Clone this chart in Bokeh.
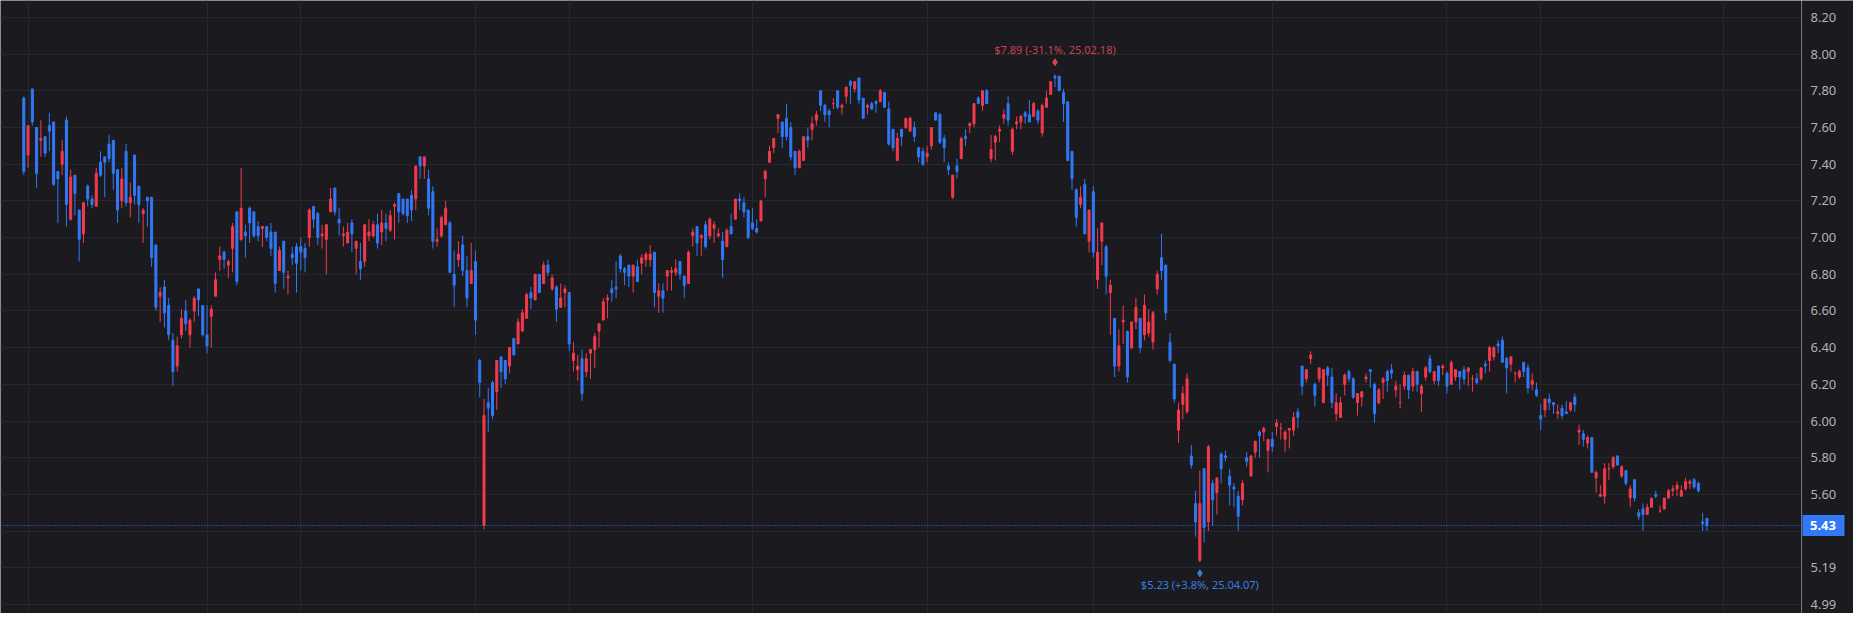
import numpy as np
from bokeh.plotting import figure
from bokeh.layouts import row
from bokeh.models import Range1d, FixedTicker, Span
from bokeh.models import ColumnDataSource
from bokeh.core.properties import value
from bokeh.embed import file_html
from bokeh.resources import INLINE

# daily candles (oldest first)
opens = [
    7.76, 7.45, 7.81, 7.60, 7.53, 7.55, 7.61, 7.63, 7.36, 7.40,
    7.64, 7.10, 7.34, 7.15, 7.02, 7.28, 7.21, 7.17, 7.41, 7.44,
    7.51, 7.53, 7.37, 7.20, 7.47, 7.19, 7.45, 7.28, 7.13, 7.22,
    7.22, 6.96, 6.68, 6.73, 6.63, 6.44, 6.30, 6.47, 6.60, 6.47,
    6.60, 6.72, 6.63, 6.47, 6.57, 6.68, 6.88, 6.92, 6.85, 6.94,
    7.14, 6.99, 7.03, 7.16, 7.14, 7.06, 7.05, 7.06, 7.03, 7.03,
    6.82, 6.98, 6.78, 6.91, 6.95, 6.95, 6.94, 7.00, 7.17, 7.13,
    7.01, 6.99, 7.14, 7.27, 7.10, 7.01, 6.97, 7.08, 6.94, 6.87,
    6.87, 7.01, 7.01, 7.07, 7.03, 7.08, 7.04, 7.17, 7.24, 7.21,
    7.21, 7.23, 7.21, 7.44, 7.39, 7.32, 7.25, 6.98, 7.01, 7.07,
    7.08, 6.80, 6.88, 6.96, 6.82, 6.75, 6.87, 6.33, 5.43, 6.10,
    6.21, 6.16, 6.35, 6.33, 6.30, 6.45, 6.42, 6.49, 6.56, 6.70,
    6.66, 6.80, 6.75, 6.85, 6.72, 6.73, 6.62, 6.70, 6.70, 6.33,
    6.28, 6.34, 6.27, 6.37, 6.39, 6.49, 6.55, 6.66, 6.72, 6.73,
    6.90, 6.83, 6.85, 6.79, 6.84, 6.86, 6.88, 6.88, 6.92, 6.68,
    6.71, 6.79, 6.81, 6.81, 6.87, 6.79, 6.75, 7.01, 7.06, 7.00,
    7.07, 7.01, 7.05, 7.01, 6.98, 6.95, 7.06, 7.10, 7.21, 7.19,
    7.15, 7.08, 7.05, 7.09, 7.32, 7.41, 7.49, 7.65, 7.63, 7.65,
    7.60, 7.47, 7.38, 7.42, 7.55, 7.59, 7.64, 7.80, 7.72, 7.69,
    7.73, 7.80, 7.71, 7.77, 7.85, 7.81, 7.87, 7.76, 7.71, 7.73,
    7.74, 7.74, 7.79, 7.70, 7.59, 7.42, 7.59, 7.60, 7.58, 7.60,
    7.49, 7.47, 7.44, 7.50, 7.68, 7.67, 7.54, 7.39, 7.22, 7.39,
    7.43, 7.55, 7.61, 7.62, 7.76, 7.72, 7.80, 7.43, 7.52, 7.58,
    7.65, 7.73, 7.47, 7.62, 7.63, 7.68, 7.67, 7.66, 7.69, 7.57,
    7.71, 7.78, 7.88, 7.88, 7.79, 7.74, 7.47, 7.26, 7.18, 7.29,
    6.98, 7.25, 6.77, 6.98, 6.95, 6.70, 6.56, 6.30, 6.54, 6.49,
    6.40, 6.54, 6.56, 6.47, 6.48, 6.43, 6.72, 6.89, 6.85, 6.43,
    6.31, 5.95, 6.09, 6.05, 5.81, 5.55, 5.24, 5.74, 5.45, 5.66,
    5.61, 5.82, 5.81, 5.70, 5.64, 5.59, 5.57, 5.80, 5.70, 5.83,
    5.94, 5.94, 5.84, 5.90, 5.97, 5.96, 5.90, 5.95, 5.95, 6.05,
    6.30, 6.23, 6.34, 6.20, 6.23, 6.10, 6.29, 6.24, 6.04, 6.02,
    6.20, 6.27, 6.23, 6.10, 6.13, 6.23, 6.28, 6.20, 6.10, 6.21,
    6.27, 6.28, 6.17, 6.10, 6.19, 6.25, 6.19, 6.27, 6.15, 6.24,
    6.34, 6.22, 6.30, 6.29, 6.26, 6.20, 6.24, 6.27, 6.28, 6.27,
    6.23, 6.23, 6.23, 6.31, 6.33, 6.35, 6.42, 6.44, 6.34, 6.31,
    6.26, 6.24, 6.32, 6.29, 6.20, 6.17, 6.03, 6.06, 6.12, 6.10,
    6.04, 6.07, 6.05, 6.06, 6.13, 5.94, 5.93, 5.88, 5.91, 5.69,
    5.59, 5.59, 5.74, 5.75, 5.81, 5.70, 5.73, 5.58, 5.68, 5.50,
    5.52, 5.49, 5.53, 5.60, 5.51, 5.52, 5.58, 5.62, 5.63, 5.59,
    5.63, 5.66, 5.68, 5.66, 5.45, 5.47,
]
highs = [
    7.77, 7.61, 7.81, 7.60, 7.64, 7.55, 7.68, 7.63, 7.36, 7.53,
    7.66, 7.37, 7.34, 7.15, 7.19, 7.29, 7.23, 7.38, 7.47, 7.44,
    7.56, 7.53, 7.37, 7.38, 7.51, 7.30, 7.45, 7.28, 7.16, 7.22,
    7.22, 6.96, 6.73, 6.77, 6.67, 6.48, 6.46, 6.61, 6.66, 6.56,
    6.68, 6.72, 6.63, 6.63, 6.63, 6.81, 6.95, 6.93, 6.88, 7.08,
    7.14, 7.38, 7.07, 7.17, 7.14, 7.09, 7.06, 7.06, 7.08, 7.03,
    6.95, 6.98, 6.82, 6.95, 6.97, 7.00, 6.97, 7.16, 7.17, 7.14,
    7.07, 7.07, 7.27, 7.27, 7.16, 7.06, 7.08, 7.10, 6.98, 6.97,
    7.07, 7.10, 7.09, 7.13, 7.15, 7.13, 7.15, 7.19, 7.24, 7.21,
    7.21, 7.26, 7.39, 7.44, 7.44, 7.37, 7.28, 7.05, 7.12, 7.20,
    7.09, 6.93, 6.98, 7.01, 6.90, 6.97, 6.93, 6.34, 6.12, 6.18,
    6.22, 6.33, 6.35, 6.33, 6.40, 6.45, 6.56, 6.61, 6.70, 6.73,
    6.80, 6.80, 6.87, 6.88, 6.80, 6.74, 6.75, 6.74, 6.70, 6.43,
    6.36, 6.39, 6.37, 6.39, 6.48, 6.53, 6.67, 6.69, 6.77, 6.87,
    6.91, 6.84, 6.85, 6.85, 6.88, 6.91, 6.92, 6.96, 6.92, 6.75,
    6.75, 6.82, 6.84, 6.88, 6.87, 6.79, 6.93, 7.05, 7.06, 7.02,
    7.09, 7.11, 7.09, 7.05, 7.03, 7.05, 7.13, 7.21, 7.24, 7.22,
    7.15, 7.16, 7.10, 7.20, 7.37, 7.50, 7.54, 7.67, 7.63, 7.73,
    7.63, 7.47, 7.48, 7.55, 7.60, 7.66, 7.69, 7.80, 7.73, 7.70,
    7.76, 7.80, 7.73, 7.82, 7.86, 7.85, 7.87, 7.76, 7.73, 7.74,
    7.75, 7.81, 7.79, 7.74, 7.59, 7.57, 7.59, 7.65, 7.66, 7.63,
    7.49, 7.49, 7.50, 7.60, 7.68, 7.68, 7.56, 7.41, 7.34, 7.43,
    7.55, 7.59, 7.63, 7.73, 7.77, 7.80, 7.81, 7.56, 7.56, 7.61,
    7.70, 7.77, 7.60, 7.66, 7.67, 7.69, 7.75, 7.74, 7.70, 7.73,
    7.80, 7.85, 7.89, 7.88, 7.81, 7.74, 7.47, 7.27, 7.28, 7.32,
    7.15, 7.28, 7.05, 7.08, 6.96, 6.77, 6.56, 6.50, 6.63, 6.49,
    6.54, 6.67, 6.56, 6.69, 6.61, 6.60, 6.82, 7.02, 6.85, 6.48,
    6.31, 6.10, 6.19, 6.26, 5.87, 5.62, 5.73, 5.74, 5.87, 5.68,
    5.69, 5.83, 5.84, 5.74, 5.66, 5.62, 5.68, 5.83, 5.81, 5.89,
    5.95, 5.97, 5.90, 5.94, 6.01, 5.99, 5.95, 5.96, 6.05, 6.07,
    6.30, 6.28, 6.38, 6.21, 6.29, 6.28, 6.30, 6.29, 6.15, 6.13,
    6.26, 6.28, 6.24, 6.15, 6.16, 6.26, 6.28, 6.21, 6.18, 6.24,
    6.28, 6.31, 6.22, 6.20, 6.27, 6.25, 6.29, 6.27, 6.20, 6.30,
    6.36, 6.27, 6.30, 6.31, 6.27, 6.33, 6.28, 6.27, 6.30, 6.29,
    6.25, 6.26, 6.29, 6.33, 6.41, 6.41, 6.44, 6.46, 6.35, 6.35,
    6.27, 6.28, 6.32, 6.31, 6.26, 6.21, 6.09, 6.12, 6.15, 6.10,
    6.09, 6.09, 6.11, 6.10, 6.15, 5.98, 5.95, 5.92, 5.91, 5.73,
    5.65, 5.77, 5.77, 5.81, 5.81, 5.76, 5.73, 5.65, 5.68, 5.52,
    5.55, 5.55, 5.58, 5.62, 5.54, 5.58, 5.63, 5.65, 5.67, 5.65,
    5.69, 5.68, 5.69, 5.67, 5.50, 5.47,
]
lows = [
    7.34, 7.38, 7.61, 7.27, 7.44, 7.44, 7.47, 7.28, 7.08, 7.34,
    7.06, 7.09, 7.12, 6.87, 6.97, 7.17, 7.16, 7.17, 7.33, 7.22,
    7.41, 7.26, 7.08, 7.16, 7.17, 7.11, 7.18, 7.08, 6.97, 7.06,
    6.84, 6.60, 6.54, 6.51, 6.44, 6.19, 6.27, 6.45, 6.49, 6.40,
    6.54, 6.57, 6.46, 6.37, 6.40, 6.68, 6.82, 6.83, 6.78, 6.81,
    6.74, 6.98, 6.89, 6.97, 7.00, 6.98, 6.95, 6.98, 6.90, 6.70,
    6.82, 6.72, 6.69, 6.85, 6.70, 6.82, 6.81, 6.95, 7.05, 6.96,
    6.94, 6.80, 7.14, 7.12, 7.01, 6.95, 6.97, 6.92, 6.80, 6.77,
    6.84, 6.98, 7.00, 6.94, 6.96, 6.98, 7.03, 6.99, 7.08, 7.12,
    7.08, 7.09, 7.15, 7.32, 7.32, 7.12, 6.94, 6.95, 7.00, 7.07,
    6.81, 6.62, 6.84, 6.79, 6.62, 6.75, 6.47, 6.13, 5.41, 5.94,
    6.01, 6.06, 6.18, 6.20, 6.26, 6.36, 6.42, 6.49, 6.56, 6.61,
    6.66, 6.70, 6.75, 6.79, 6.71, 6.54, 6.62, 6.62, 6.38, 6.27,
    6.22, 6.11, 6.24, 6.23, 6.29, 6.40, 6.55, 6.56, 6.65, 6.67,
    6.81, 6.74, 6.73, 6.70, 6.76, 6.80, 6.84, 6.84, 6.62, 6.59,
    6.59, 6.71, 6.71, 6.79, 6.77, 6.67, 6.75, 6.95, 6.90, 6.90,
    6.94, 6.99, 6.97, 7.00, 6.78, 6.95, 7.02, 7.10, 7.15, 7.11,
    6.99, 7.04, 7.02, 7.09, 7.22, 7.41, 7.46, 7.57, 7.49, 7.53,
    7.42, 7.34, 7.38, 7.42, 7.49, 7.53, 7.61, 7.69, 7.63, 7.60,
    7.70, 7.70, 7.67, 7.73, 7.73, 7.79, 7.73, 7.65, 7.67, 7.70,
    7.68, 7.74, 7.71, 7.50, 7.47, 7.42, 7.50, 7.59, 7.58, 7.52,
    7.41, 7.39, 7.41, 7.48, 7.64, 7.51, 7.41, 7.34, 7.21, 7.32,
    7.43, 7.50, 7.57, 7.60, 7.73, 7.69, 7.73, 7.41, 7.42, 7.52,
    7.62, 7.61, 7.45, 7.59, 7.59, 7.62, 7.63, 7.66, 7.62, 7.55,
    7.71, 7.78, 7.82, 7.80, 7.63, 7.42, 7.26, 7.06, 7.16, 7.02,
    6.92, 6.89, 6.72, 6.85, 6.69, 6.47, 6.24, 6.27, 6.42, 6.21,
    6.39, 6.50, 6.37, 6.44, 6.46, 6.39, 6.69, 6.77, 6.55, 6.32,
    6.10, 5.88, 6.01, 6.04, 5.74, 5.37, 5.23, 5.34, 5.40, 5.43,
    5.49, 5.66, 5.78, 5.54, 5.53, 5.40, 5.54, 5.75, 5.70, 5.80,
    5.80, 5.89, 5.72, 5.83, 5.92, 5.90, 5.83, 5.85, 5.92, 5.96,
    6.14, 6.21, 6.31, 6.08, 6.21, 6.10, 6.19, 6.07, 6.00, 6.02,
    6.14, 6.21, 6.12, 6.03, 6.08, 6.21, 6.18, 5.99, 6.09, 6.12,
    6.16, 6.23, 6.13, 6.07, 6.17, 6.12, 6.16, 6.16, 6.05, 6.22,
    6.26, 6.20, 6.19, 6.25, 6.15, 6.20, 6.22, 6.17, 6.20, 6.19,
    6.16, 6.20, 6.22, 6.26, 6.27, 6.33, 6.37, 6.32, 6.15, 6.27,
    6.21, 6.23, 6.24, 6.15, 6.17, 6.13, 5.95, 6.02, 6.06, 6.04,
    6.01, 6.01, 6.04, 6.05, 6.05, 5.87, 5.86, 5.85, 5.72, 5.61,
    5.59, 5.55, 5.68, 5.74, 5.76, 5.69, 5.65, 5.53, 5.56, 5.46,
    5.40, 5.49, 5.53, 5.58, 5.50, 5.52, 5.58, 5.59, 5.59, 5.59,
    5.62, 5.63, 5.63, 5.61, 5.40, 5.40,
]
closes = [
    7.36, 7.61, 7.63, 7.35, 7.54, 7.46, 7.58, 7.29, 7.32, 7.47,
    7.18, 7.33, 7.24, 6.99, 7.19, 7.21, 7.18, 7.35, 7.34, 7.41,
    7.43, 7.35, 7.15, 7.32, 7.19, 7.22, 7.23, 7.18, 7.15, 7.20,
    6.89, 6.62, 6.70, 6.59, 6.47, 6.27, 6.41, 6.56, 6.53, 6.55,
    6.67, 6.66, 6.47, 6.41, 6.61, 6.77, 6.90, 6.88, 6.87, 7.06,
    6.76, 7.16, 7.01, 7.08, 7.01, 7.01, 7.06, 7.00, 6.94, 6.75,
    6.93, 6.81, 6.79, 6.89, 6.86, 6.92, 6.89, 7.15, 7.10, 7.00,
    7.02, 7.07, 7.21, 7.14, 7.08, 7.02, 7.03, 7.02, 6.98, 6.83,
    7.07, 7.03, 7.07, 6.97, 7.08, 7.05, 7.12, 7.18, 7.14, 7.13,
    7.12, 7.15, 7.39, 7.39, 7.44, 7.16, 6.98, 6.99, 7.11, 7.16,
    6.81, 6.74, 6.91, 6.82, 6.67, 6.82, 6.55, 6.21, 6.03, 6.07,
    6.03, 6.33, 6.27, 6.23, 6.40, 6.36, 6.54, 6.59, 6.69, 6.67,
    6.80, 6.70, 6.85, 6.81, 6.78, 6.61, 6.67, 6.72, 6.42, 6.37,
    6.30, 6.15, 6.34, 6.39, 6.46, 6.53, 6.65, 6.67, 6.70, 6.72,
    6.83, 6.81, 6.79, 6.85, 6.76, 6.89, 6.91, 6.91, 6.70, 6.71,
    6.67, 6.82, 6.82, 6.83, 6.80, 6.74, 6.92, 7.03, 6.97, 7.01,
    6.95, 7.10, 7.07, 7.02, 6.88, 7.04, 7.02, 7.21, 7.20, 7.14,
    7.00, 7.05, 7.03, 7.20, 7.36, 7.47, 7.54, 7.67, 7.55, 7.55,
    7.44, 7.38, 7.47, 7.55, 7.53, 7.62, 7.67, 7.72, 7.67, 7.67,
    7.73, 7.71, 7.72, 7.82, 7.83, 7.85, 7.75, 7.65, 7.72, 7.70,
    7.73, 7.80, 7.71, 7.51, 7.49, 7.54, 7.55, 7.65, 7.65, 7.55,
    7.44, 7.40, 7.46, 7.60, 7.64, 7.52, 7.49, 7.37, 7.34, 7.36,
    7.54, 7.54, 7.62, 7.73, 7.73, 7.80, 7.73, 7.48, 7.55, 7.59,
    7.67, 7.64, 7.59, 7.63, 7.66, 7.66, 7.63, 7.73, 7.64, 7.72,
    7.76, 7.85, 7.87, 7.80, 7.73, 7.42, 7.32, 7.11, 7.22, 7.02,
    7.15, 6.92, 6.92, 7.08, 6.79, 6.74, 6.30, 6.41, 6.55, 6.24,
    6.54, 6.62, 6.40, 6.63, 6.54, 6.59, 6.80, 6.82, 6.59, 6.33,
    6.12, 6.06, 6.15, 6.23, 5.76, 5.45, 5.55, 5.42, 5.86, 5.57,
    5.69, 5.74, 5.80, 5.65, 5.63, 5.48, 5.66, 5.78, 5.81, 5.89,
    5.92, 5.96, 5.90, 5.86, 5.99, 5.96, 5.94, 5.96, 6.02, 6.02,
    6.19, 6.28, 6.36, 6.14, 6.29, 6.28, 6.25, 6.10, 6.10, 6.10,
    6.25, 6.23, 6.13, 6.15, 6.16, 6.24, 6.27, 6.04, 6.17, 6.23,
    6.22, 6.26, 6.19, 6.10, 6.25, 6.17, 6.27, 6.20, 6.19, 6.29,
    6.27, 6.27, 6.22, 6.30, 6.19, 6.32, 6.28, 6.24, 6.23, 6.29,
    6.23, 6.21, 6.29, 6.30, 6.40, 6.40, 6.41, 6.32, 6.29, 6.35,
    6.26, 6.27, 6.27, 6.18, 6.22, 6.14, 6.01, 6.12, 6.10, 6.09,
    6.05, 6.03, 6.04, 6.10, 6.09, 5.95, 5.90, 5.91, 5.72, 5.72,
    5.60, 5.74, 5.74, 5.80, 5.76, 5.75, 5.66, 5.63, 5.58, 5.48,
    5.49, 5.53, 5.58, 5.59, 5.51, 5.58, 5.62, 5.63, 5.65, 5.62,
    5.67, 5.67, 5.64, 5.62, 5.44, 5.43,
]

# candle index where a new month starts (vertical grid lines)
month_ticks = [1, 43, 65, 106, 128, 171, 212, 251, 293, 334, 356, 399]
price_ticks = [5.0, 5.2, 5.4, 5.6, 5.8, 6.0, 6.2, 6.4, 6.6, 6.8, 7.0, 7.2, 7.4, 7.6, 7.8, 8.0, 8.2]
price_labels = ["4.99", "5.19", "", "5.60", "5.80", "6.00", "6.20", "6.40", "6.60",
                "6.80", "7.00", "7.20", "7.40", "7.60", "7.80", "8.00", "8.20"]
hi_label = "$7.89 (-31.1%, 25.02.18)"
lo_label = "$5.23 (+3.8%, 25.04.07)"

BG = "#1a1a1f"
GRID = "#27272d"
UP = "#f23b4c"
DOWN = "#3179f5"
FONT = "Noto Sans"

W, H = 1853, 613
AXIS_W = 52
y0, y1 = 4.9509, 8.2921
x0, x1 = -5.468, 417.2
ppx = (y1 - y0) / H  # price per pixel

o = np.array(opens)
h = np.array(highs)
l = np.array(lows)
c = np.array(closes)
idx = np.arange(len(o))
colors = np.where(c >= o, UP, DOWN)

src = ColumnDataSource(dict(
    x=idx, high=h, low=l,
    top=np.maximum(o, c), bottom=np.minimum(o, c),
    color=colors,
))

yr = Range1d(y0, y1)

p = figure(width=W - AXIS_W, height=H, x_range=Range1d(x0, x1), y_range=yr,
           x_axis_location=None, y_axis_location=None,
           toolbar_location=None, output_backend="svg", min_border=0,
           background_fill_color=BG, border_fill_color=BG, outline_line_color=None)
p.xgrid.ticker = FixedTicker(ticks=month_ticks)
p.ygrid.ticker = FixedTicker(ticks=price_ticks)
p.xgrid.grid_line_color = GRID
p.ygrid.grid_line_color = GRID

# last price line
last = closes[-1]
p.add_layout(Span(location=last, dimension="width", line_color=DOWN,
                  line_dash="1 2", line_width=1))

# candles
p.segment(x0="x", y0="high", x1="x", y1="low", color="color", line_width=1, source=src)
p.vbar(x="x", width=0.47, top="top", bottom="bottom", fill_color="color",
       line_color="color", line_width=1, source=src)

# highest / lowest markers
i_hi = int(np.argmax(h))
i_lo = int(np.argmin(l))
p.scatter(x=[i_hi], y=[h[i_hi] + 12 * ppx], marker="diamond", size=7, color="#d8434f")
p.scatter(x=[i_lo], y=[l[i_lo] - 11 * ppx], marker="diamond", size=7, color="#3a7ee0")
p.text(x=[i_hi], y=[h[i_hi]], text=[hi_label], y_offset=-25,
       text_align="center", text_baseline="middle",
       text_font=value(FONT), text_font_size="11px", text_color="#c9434f")
p.text(x=[i_lo], y=[l[i_lo]], text=[lo_label], y_offset=22,
       text_align="center", text_baseline="middle",
       text_font=value(FONT), text_font_size="11px", text_color="#3a7ee0")

# price scale on the right (shares the y range)
ax = figure(width=AXIS_W, height=H, x_range=Range1d(0, AXIS_W), y_range=yr,
            x_axis_location=None, y_axis_location=None,
            toolbar_location=None, output_backend="svg", min_border=0,
            background_fill_color=BG, border_fill_color=BG, outline_line_color=None)
ax.xgrid.visible = False
ax.ygrid.visible = False
ax.add_layout(Span(location=0.5, dimension="height", line_color="#2c2c33", line_width=1))
ax.text(x=[9] * len(price_ticks), y=price_ticks, text=price_labels,
        text_align="left", text_baseline="middle",
        text_font=value(FONT), text_font_size="13px", text_color="#b2b2b8")

# last price tag
ax.rect(x=[21.5], y=[last], width=[43], height=[21], height_units="screen",
        fill_color=DOWN, line_color=None)
ax.text(x=[21.5], y=[last], text=[f"{last:.2f}"],
        text_align="center", text_baseline="middle",
        text_font=value(FONT), text_font_size="13px", text_font_style="bold",
        text_color="white")

layout = row(p, ax)
open("out.html", "w").write(file_html(layout, INLINE))
